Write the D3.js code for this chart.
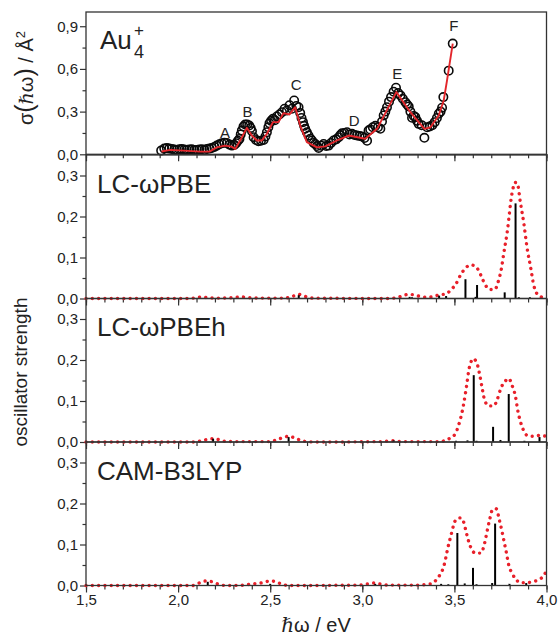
<!DOCTYPE html>
<html><head><meta charset="utf-8">
<script src="https://cdn.jsdelivr.net/npm/d3@7"></script>
<style>
body{margin:0;background:#fff}
svg{display:block}
text{font-family:"Liberation Sans",Arial,Helvetica,sans-serif;fill:#222}
</style>
</head><body>
<svg id="chart" width="560" height="639"></svg>
<script>
// ---------------- DATA ----------------
// Experimental cross section (Au4+), eV and sigma (Å^2)
const expEnergy = [1.908,1.925,1.939,1.952,1.966,1.980,1.993,2.007,2.020,2.034,2.047,2.060,2.074,2.088,2.102,2.115,2.129,2.143,2.156,2.170,2.183,2.197,2.210,2.224,2.237,2.251,2.265,2.279,2.292,2.305,2.315,2.325,2.333,2.340,2.346,2.355,2.364,2.375,2.386,2.394,2.401,2.410,2.423,2.436,2.450,2.464,2.474,2.482,2.490,2.496,2.505,2.515,2.525,2.536,2.550,2.564,2.578,2.591,2.605,2.618,2.630,2.642,2.654,2.663,2.670,2.678,2.684,2.690,2.699,2.708,2.718,2.727,2.736,2.745,2.754,2.763,2.777,2.790,2.804,2.817,2.830,2.844,2.858,2.872,2.881,2.890,2.904,2.917,2.930,2.944,2.958,2.971,2.985,2.998,3.012,3.026,3.034,3.043,3.057,3.071,3.085,3.098,3.107,3.116,3.125,3.134,3.145,3.156,3.170,3.183,3.195,3.207,3.220,3.234,3.243,3.252,3.261,3.270,3.279,3.288,3.297,3.306,3.322,3.337,3.352,3.366,3.380,3.393,3.405,3.415,3.425,3.433,3.440,3.469,3.491];
const expSigma  = [0.026,0.040,0.045,0.040,0.038,0.033,0.031,0.036,0.038,0.033,0.031,0.034,0.035,0.030,0.031,0.034,0.035,0.030,0.038,0.040,0.045,0.052,0.061,0.070,0.078,0.082,0.080,0.068,0.061,0.066,0.078,0.095,0.108,0.140,0.167,0.195,0.209,0.210,0.202,0.185,0.162,0.120,0.100,0.092,0.095,0.101,0.125,0.155,0.190,0.218,0.235,0.249,0.240,0.266,0.280,0.296,0.320,0.308,0.345,0.320,0.378,0.340,0.331,0.290,0.255,0.226,0.200,0.179,0.155,0.132,0.110,0.097,0.080,0.073,0.058,0.045,0.060,0.073,0.058,0.061,0.080,0.097,0.105,0.120,0.135,0.148,0.150,0.155,0.140,0.144,0.136,0.132,0.128,0.125,0.115,0.095,0.167,0.175,0.190,0.200,0.190,0.179,0.230,0.273,0.300,0.331,0.370,0.402,0.440,0.468,0.430,0.414,0.390,0.366,0.350,0.336,0.300,0.257,0.270,0.261,0.235,0.214,0.205,0.116,0.190,0.195,0.205,0.226,0.255,0.285,0.300,0.327,0.402,0.588,0.778];

// Red guide line through the experimental points
const fitEnergy = [1.910,1.957,2.030,2.120,2.170,2.210,2.255,2.290,2.310,2.337,2.373,2.400,2.428,2.455,2.482,2.515,2.545,2.572,2.605,2.636,2.663,2.699,2.754,2.799,2.862,2.926,3.016,3.080,3.185,3.261,3.337,3.370,3.415,3.442,3.460,3.491];
const fitSigma  = [0.020,0.031,0.026,0.019,0.019,0.049,0.061,0.054,0.038,0.097,0.186,0.132,0.097,0.097,0.144,0.226,0.226,0.289,0.280,0.331,0.202,0.085,0.049,0.056,0.097,0.132,0.109,0.179,0.437,0.296,0.179,0.190,0.273,0.378,0.519,0.778];

// Peak labels
const peakNames  = ["A","B","C","D","E","F"];
const peakEnergy = [2.255,2.377,2.641,2.956,3.190,3.497];
const peakSigma  = [0.118,0.259,0.449,0.202,0.527,0.867];

// Theory panels
const methodNames = ["LC-ωPBE","LC-ωPBEh","CAM-B3LYP"];

// LC-ωPBE
const lcStickE = [2.655,3.257,3.270,3.417,3.455,3.560,3.615,3.623,3.773,3.832,3.850,3.910];
const lcStickF = [0.008,0.004,0.003,0.007,0.006,0.047,0.004,0.033,0.015,0.232,0.003,0.003];
const lcCurveE = [1.5,2.05,2.10,2.13,2.16,2.22,2.30,2.34,2.38,2.45,2.58,2.62,2.655,2.69,2.73,3.15,3.21,3.248,3.279,3.315,3.35,3.389,3.418,3.455,3.482,3.505,3.533,3.560,3.590,3.614,3.632,3.650,3.668,3.692,3.719,3.741,3.754,3.768,3.786,3.813,3.830,3.841,3.859,3.877,3.895,3.913,3.931,3.949,3.970,4.0];
const lcCurveF = [0,0,0.002,0.004,0.002,0.001,0.002,0.004,0.002,0.001,0.001,0.005,0.010,0.005,0.001,0,0.005,0.010,0.009,0.005,0.003,0.005,0.009,0.011,0.022,0.033,0.057,0.074,0.082,0.078,0.068,0.050,0.033,0.022,0.022,0.046,0.070,0.110,0.160,0.257,0.283,0.281,0.232,0.183,0.122,0.078,0.032,0.011,0.004,0];

// LC-ωPBEh
const lchStickE = [2.190,2.410,2.600,3.170,3.509,3.571,3.605,3.620,3.710,3.750,3.795,3.880,3.962];
const lchStickF = [0.008,0.002,0.012,0.004,0.003,0.004,0.163,0.003,0.037,0.005,0.117,0.003,0.012];
const lchCurveE = [1.5,2.08,2.137,2.165,2.192,2.219,2.25,2.30,2.40,2.50,2.545,2.572,2.599,2.627,2.654,2.68,2.75,3.10,3.16,3.22,3.41,3.447,3.478,3.505,3.520,3.535,3.550,3.562,3.569,3.578,3.587,3.601,3.620,3.636,3.650,3.663,3.686,3.714,3.732,3.754,3.777,3.795,3.813,3.832,3.844,3.859,3.877,3.895,3.928,3.962,4.0];
const lchCurveF = [0,0,0.004,0.007,0.008,0.006,0.002,0.001,0.001,0.001,0.007,0.011,0.014,0.011,0.006,0.002,0,0.001,0.003,0.001,0.001,0.003,0.010,0.020,0.037,0.060,0.092,0.125,0.146,0.175,0.191,0.203,0.195,0.167,0.133,0.104,0.088,0.088,0.103,0.133,0.149,0.155,0.138,0.110,0.077,0.049,0.027,0.016,0.014,0.016,0.014];

// CAM-B3LYP
const camStickE = [2.161,2.500,3.070,3.428,3.467,3.516,3.556,3.601,3.620,3.705,3.721,3.799,3.890];
const camStickF = [0.009,0.004,0.004,0.004,0.003,0.128,0.005,0.043,0.003,0.006,0.151,0.004,0.006];
const camCurveE = [1.5,2.08,2.12,2.150,2.186,2.219,2.26,2.36,2.40,2.436,2.467,2.50,2.533,2.564,2.60,2.98,3.03,3.06,3.09,3.14,3.30,3.370,3.402,3.424,3.442,3.455,3.464,3.475,3.488,3.496,3.511,3.533,3.549,3.560,3.572,3.587,3.614,3.641,3.659,3.668,3.681,3.692,3.707,3.727,3.744,3.757,3.768,3.781,3.795,3.813,3.832,3.859,3.895,3.931,3.958,3.985,4.0];
const camCurveF = [0,0,0.007,0.011,0.009,0.003,0,0.001,0.004,0.005,0.008,0.011,0.009,0.003,0,0.001,0.004,0.006,0.004,0.001,0.001,0.004,0.014,0.028,0.046,0.071,0.091,0.111,0.134,0.148,0.162,0.165,0.156,0.138,0.116,0.095,0.079,0.079,0.094,0.111,0.140,0.162,0.185,0.187,0.160,0.135,0.111,0.083,0.050,0.030,0.016,0.007,0.007,0.010,0.014,0.024,0.036];

// Axis ticks
const xTickValues = [1.5,2.0,2.5,3.0,3.5,4.0];
const xTickLabels = ["1,5","2,0","2,5","3,0","3,5","4,0"];
const yTopTickValues = [0,0.3,0.6,0.9];
const yTopTickLabels = ["0,0","0,3","0,6","0,9"];
const yOscTickValues = [0,0.1,0.2,0.3];
const yOscTickLabels = ["0,0","0,1","0,2","0,3"];

// ---------------- DRAW ----------------
const svg = d3.select("#chart");
const RED = "#e8202a", AX = "#333";
const x = d3.scaleLinear().domain([1.5,4.0]).range([86,546.5]);
const xMinor = d3.range(15,41).map(v=>v/10);

const panels = [
  {top:12,  bottom:154.3, domain:[0,1.0],  ticks:yTopTickValues, labels:yTopTickLabels, minor:[0.15,0.45,0.75]},
  {top:155, bottom:298.5, domain:[0,0.35], ticks:yOscTickValues, labels:yOscTickLabels, minor:[0.05,0.15,0.25]},
  {top:298.5,bottom:442, domain:[0,0.35], ticks:yOscTickValues, labels:yOscTickLabels, minor:[0.05,0.15,0.25]},
  {top:442, bottom:585.5, domain:[0,0.35], ticks:yOscTickValues, labels:yOscTickLabels, minor:[0.05,0.15,0.25]}
];
panels.forEach(p=>{ p.y = d3.scaleLinear().domain(p.domain).range([p.bottom,p.top]); });

function styleAxis(g){
  g.select(".domain").remove();
  g.selectAll(".tick line").attr("stroke",AX).attr("stroke-width",1.2);
  g.selectAll(".tick text").attr("font-size",15).attr("fill","#222")
   .attr("font-family","'Liberation Sans',Arial,sans-serif");
}

const theory = [
  {sE:lcStickE, sF:lcStickF, cE:lcCurveE, cF:lcCurveF},
  {sE:lchStickE, sF:lchStickF, cE:lchCurveE, cF:lchCurveF},
  {sE:camStickE, sF:camStickF, cE:camCurveE, cF:camCurveF}
];

panels.forEach((p,i)=>{
  const last = i===panels.length-1;
  svg.append("g").attr("transform",`translate(0,${p.bottom})`)
    .call(d3.axisBottom(x).tickValues(xMinor).tickSize(4).tickFormat("")).call(styleAxis);
  svg.append("g").attr("transform",`translate(0,${p.bottom})`)
    .call(d3.axisBottom(x).tickValues(xTickValues).tickSize(7).tickPadding(2)
      .tickFormat((d,k)=> last ? xTickLabels[k] : "")).call(styleAxis);
  svg.append("g").attr("transform",`translate(${x(1.5)},0)`)
    .call(d3.axisLeft(p.y).tickValues(p.minor).tickSize(3.5).tickFormat("")).call(styleAxis);
  svg.append("g").attr("transform",`translate(${x(1.5)},0)`)
    .call(d3.axisLeft(p.y).tickValues(p.ticks).tickSize(6).tickPadding(2)
      .tickFormat((d,k)=>p.labels[k])).call(styleAxis);
});

// Top panel: experiment
const p0 = panels[0];
const expData = expEnergy.map((e,k)=>({e, s:expSigma[k]}));
svg.append("g").selectAll("circle").data(expData).join("circle")
  .attr("cx",d=>x(d.e)).attr("cy",d=>p0.y(d.s)).attr("r",4.2)
  .attr("fill","none").attr("stroke","#0a0a0a").attr("stroke-width",1.6);
const fitData = fitEnergy.map((e,k)=>({e, s:fitSigma[k]}));
svg.append("path").datum(fitData)
  .attr("d", d3.line().x(d=>x(d.e)).y(d=>p0.y(d.s)))
  .attr("fill","none").attr("stroke","#e3262b").attr("stroke-width",1.9).attr("stroke-linejoin","round");
svg.append("g").selectAll("text").data(peakNames).join("text")
  .attr("x",(d,k)=>x(peakEnergy[k])).attr("y",(d,k)=>p0.y(peakSigma[k]))
  .attr("text-anchor","middle").attr("font-size",15).attr("fill","#333").text(d=>d);

// theory panels
theory.forEach((t,k)=>{
  const p = panels[k+1];
  const cData = t.cE.map((e,j)=>({e, f:t.cF[j]}));
  svg.append("path").datum(cData)
    .attr("d", d3.line().curve(d3.curveMonotoneX).x(d=>x(d.e)).y(d=>p.y(d.f)))
    .attr("fill","none").attr("stroke",RED).attr("stroke-width",3.4)
    .attr("stroke-linecap","round").attr("stroke-dasharray","0.01,6.3");
  const sData = t.sE.map((e,j)=>({e, f:t.sF[j]}));
  svg.append("g").selectAll("line").data(sData).join("line")
    .attr("x1",d=>x(d.e)).attr("x2",d=>x(d.e))
    .attr("y1",p.y(0)).attr("y2",d=>p.y(d.f))
    .attr("stroke","#000").attr("stroke-width",2);
});

// frames
panels.forEach(p=>{
  svg.append("rect").attr("x",x(1.5)).attr("y",p.top)
    .attr("width",x(4.0)-x(1.5)).attr("height",p.bottom-p.top)
    .attr("fill","none").attr("stroke",AX).attr("stroke-width",1.3);
});

// panel titles
svg.append("text").attr("x",100).attr("y",49).attr("font-size",26).attr("fill","#222").text("Au");
svg.append("text").attr("x",134).attr("y",58).attr("font-size",18).attr("fill","#222").text("4");
svg.append("text").attr("x",134).attr("y",36).attr("font-size",17).attr("fill","#222").text("+");
const titleBase = [193,336,480];
methodNames.forEach((n,k)=>{
  svg.append("text").attr("x",97).attr("y",titleBase[k]).attr("font-size",26).attr("fill","#222").text(n);
});

// axis titles
const yl = svg.append("text").attr("transform","translate(33,78) rotate(-90)")
  .attr("text-anchor","middle").attr("font-size",20).attr("fill","#222");
yl.append("tspan").text("σ");
yl.append("tspan").attr("font-size",25).text("(");
yl.append("tspan").attr("font-family","'DejaVu Serif',serif").attr("font-style","italic").attr("font-size",19).text("ℏ");
yl.append("tspan").text("ω");
yl.append("tspan").attr("font-size",25).text(")");
yl.append("tspan").text(" / Å");
yl.append("tspan").attr("font-size",13).attr("dy",-8).text("2");

svg.append("text").attr("transform","translate(27,372) rotate(-90)")
  .attr("text-anchor","middle").attr("font-size",19).attr("fill","#222").text("oscillator strength");

const xl = svg.append("text").attr("x",316).attr("y",632).attr("text-anchor","middle")
  .attr("font-size",20).attr("fill","#222");
xl.append("tspan").attr("font-family","'DejaVu Serif',serif").attr("font-style","italic").text("ℏ");
xl.append("tspan").text("ω / eV");
</script>
</body></html>
